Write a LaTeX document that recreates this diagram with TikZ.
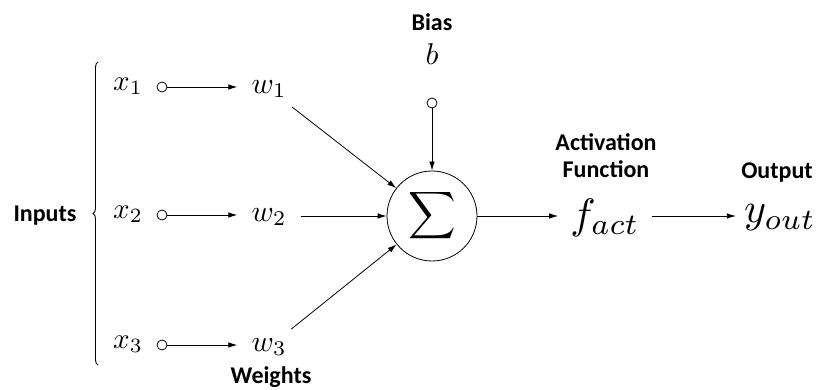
\documentclass[tikz,border=0pt]{standalone}
\usepackage{graphicx}
\usepackage{fontspec}
\setsansfont{Carlito}
\usetikzlibrary{arrows.meta,decorations.pathreplacing}
\newcommand{\mv}[2][3.0]{\scalebox{#1}{$#2$}}
\begin{document}
\begin{tikzpicture}[x=1pt,y=-1pt,
  lbl/.style={font=\sffamily\bfseries\fontsize{24}{27}\selectfont, inner sep=0pt, align=center},
  var/.style={inner sep=1pt},
  wvar/.style={inner xsep=14pt, inner ysep=9pt},
  dot/.style={circle, draw, line width=0.8pt, minimum size=10pt, inner sep=0pt},
  conn/.style={line width=0.8pt, -{Latex[length=9pt,width=5.5pt]}},
]
\useasboundingbox (0,0) rectangle (817,390);

% inputs
\node[var] (x1) at (128,86) {\mv[2.9]{x_1}};
\node[var] (x2) at (128,214) {\mv[2.9]{x_2}};
\node[var] (x3) at (128,344) {\mv[2.9]{x_3}};
\node[dot] (c1) at (162,87) {};
\node[dot] (c2) at (162,215) {};
\node[dot] (c3) at (162,345) {};
\node[wvar] (w1) at (269,89) {\mv{w_1}};
\node[wvar] (w2) at (269,217) {\mv{w_2}};
\node[wvar] (w3) at (269,347) {\mv{w_3}};

\draw[conn] (c1) -- (c1 -| w1.west);
\draw[conn] (c2) -- (c2 -| w2.west);
\draw[conn] (c3) -- (c3 -| w3.west);

% brace
\coordinate (bb) at (98,365);
\coordinate (bt) at (98,62);
\draw[line width=0.9pt, decorate, decoration={brace, amplitude=5pt}] (bb) -- (bt);
\node[lbl] (inputs) at (45,216) {Inputs};
\node[lbl] (weights) at (271,377) {Weights};

% summation
\node[circle, draw, line width=0.8pt, minimum size=90pt, inner sep=0pt] (sum) at (432,216) {\scalebox{3.3}{$\displaystyle\sum$}};
\node[lbl] (bias) at (432,22) {Bias};
\node[var] (b) at (432,54) {\mv{b}};
\node[dot] (cb) at (432,103) {};
\draw[conn] (cb) -- (sum);

\draw[conn] (w1) -- (sum);
\draw[conn] (w2.east |- sum) -- (sum);
\draw[conn] (w3) -- (sum);

% activation / output
\node[inner xsep=12pt, inner ysep=2pt] (f) at (605,218) {\mv[4.25]{f_{act}}};
\node[inner xsep=8pt, inner ysep=2pt] (y) at (780,218) {\mv[4.2]{y_{out}}};
\node[lbl] (act) at (606,156) {Activation\\Function};
\node[lbl] (out) at (777,173) {Output};
\draw[conn] (sum) -- (sum -| f.west);
\draw[conn] (sum -| f.east) -- (sum -| y.west);
\end{tikzpicture}
\end{document}
